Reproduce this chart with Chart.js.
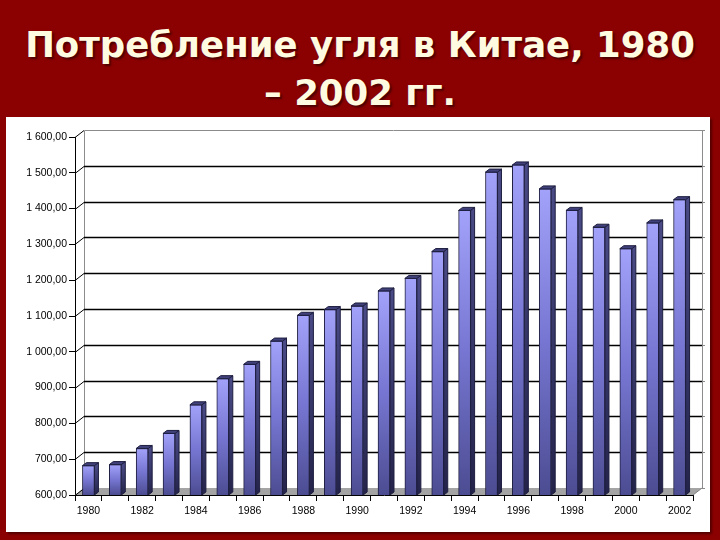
<!DOCTYPE html>
<html>
<head>
<meta charset="utf-8">
<script src="https://cdn.jsdelivr.net/npm/chart.js@4/dist/chart.umd.min.js"></script>
<style>
  html, body { margin: 0; padding: 0; }
  body { width: 720px; height: 540px; background: #8b0000; position: relative; overflow: hidden; }
  #title {
    position: absolute; left: 0; top: 21px; width: 720px;
    text-align: center; color: #fffbe0;
    font-family: "DejaVu Sans", sans-serif; font-weight: bold; font-size: 35.5px; line-height: 48px;
    text-shadow: 2px 2px 2px rgba(0,0,0,0.45);
  }
  #box {
    position: absolute; left: 6px; top: 117px; width: 704px; height: 415px;
    background: #fff; box-shadow: 2px 2px 2px rgba(0,0,0,0.4);
  }
</style>
</head>
<body>
<div id="title">Потребление угля в Китае, 1980<br>– 2002 гг.</div>
<div id="box"><canvas id="coalChart" width="704" height="415"></canvas></div>
<script>
// years on the category axis
const years = ['1980','1981','1982','1983','1984','1985','1986','1987','1988','1989','1990',
  '1991','1992','1993','1994','1995','1996','1997','1998','1999','2000','2001','2002'];

// coal consumption
const consumption = [682, 685, 730, 772, 852, 925, 965, 1030, 1102, 1118, 1128,
  1170, 1205, 1280, 1395, 1502, 1522, 1455, 1395, 1348, 1288, 1360, 1425];

// value axis labels, 600 to 1600
const yTickValues = [600, 700, 800, 900, 1000, 1100, 1200, 1300, 1400, 1500, 1600];
const yTickLabels = ['600,00','700,00','800,00','900,00','1 000,00','1 100,00','1 200,00',
  '1 300,00','1 400,00','1 500,00','1 600,00'];

// depth of the fake 3d wall and of the bars
const wallDx = 9, wallDy = 7;
const barDx = 4, barDy = 3;

//frontGradient : each bar gets its own light-to-dark fill
function frontGradient(context){
  const chart = context.chart;
  if (!chart.chartArea || context.parsed === undefined) return '#7a7ad8';
  const yScale = chart.scales.y;
  const top = yScale.getPixelForValue(context.parsed.y);
  const g = chart.ctx.createLinearGradient(0, top, 0, yScale.bottom);
  g.addColorStop(0, '#a2a2fa');
  g.addColorStop(0.5, '#7676d2');
  g.addColorStop(1, '#4c4c92');
  return g;
}

// back wall, grid lines and floor, then the sides and tops of the bars
const fake3d = {
  id: 'fake3d',
  beforeDatasetsDraw(chart){
    const c = chart.ctx;
    const a = chart.chartArea;
    const y = chart.scales.y;
    c.save();
    // floor
    c.fillStyle = '#a4a4a4';
    c.beginPath();
    c.moveTo(a.left, a.bottom);
    c.lineTo(a.left + wallDx, a.bottom - wallDy);
    c.lineTo(a.right + wallDx, a.bottom - wallDy);
    c.lineTo(a.right, a.bottom);
    c.closePath();
    c.fill();
    // wall frame
    c.strokeStyle = '#8c8c8c';
    c.lineWidth = 1;
    c.beginPath();
    c.moveTo(a.left + wallDx + 0.5, a.bottom - wallDy);
    c.lineTo(a.left + wallDx + 0.5, a.top - wallDy + 0.5);
    c.lineTo(a.right + wallDx + 0.5, a.top - wallDy + 0.5);
    c.lineTo(a.right + wallDx + 0.5, a.bottom - wallDy);
    c.stroke();
    // grid lines on the back wall plus the short slanted links to the axis
    yTickValues.forEach(function(v){
      const py = Math.round(y.getPixelForValue(v)) + 0.5;
      c.strokeStyle = '#000';
      c.lineWidth = 1;
      c.beginPath();
      c.moveTo(a.left, py);
      c.lineTo(a.left + wallDx, py - wallDy);
      c.stroke();
      if (v > 600 && v < 1600){
        c.lineWidth = 1.4;
        c.beginPath();
        c.moveTo(a.left + wallDx, py - wallDy);
        c.lineTo(a.right + wallDx, py - wallDy);
        c.stroke();
      }
      c.strokeStyle = '#8c8c8c';
      c.lineWidth = 1;
      c.beginPath();
      c.moveTo(a.right + wallDx, py - wallDy);
      c.lineTo(a.right + wallDx + 3, py - wallDy);
      c.stroke();
    });
    // right edge of the floor
    c.strokeStyle = '#808080';
    c.beginPath();
    c.moveTo(a.right, a.bottom);
    c.lineTo(a.right + wallDx, a.bottom - wallDy);
    c.stroke();
    c.restore();
  },
  afterDatasetsDraw(chart){
    const c = chart.ctx;
    const bars = chart.getDatasetMeta(0).data;
    const bottom = chart.chartArea.bottom;
    c.save();
    c.lineWidth = 1;
    c.strokeStyle = '#1e1e40';
    bars.forEach(function(bar){
      const p = bar.getProps(['x', 'y', 'width', 'base'], true);
      const base = Math.min(p.base, bottom);
      const l = p.x - p.width / 2, r = p.x + p.width / 2;
      // side
      const sg = c.createLinearGradient(0, p.y, 0, base);
      sg.addColorStop(0, '#4a4a86');
      sg.addColorStop(1, '#23234a');
      c.fillStyle = sg;
      c.beginPath();
      c.moveTo(r, p.y);
      c.lineTo(r + barDx, p.y - barDy);
      c.lineTo(r + barDx, base - barDy);
      c.lineTo(r, base);
      c.closePath();
      c.fill();
      c.stroke();
      // top
      c.fillStyle = '#40407a';
      c.beginPath();
      c.moveTo(l, p.y);
      c.lineTo(l + barDx, p.y - barDy);
      c.lineTo(r + barDx, p.y - barDy);
      c.lineTo(r, p.y);
      c.closePath();
      c.fill();
      c.stroke();
    });
    c.restore();
  }
};

const ctx = document.getElementById('coalChart');
let coalChart = new Chart(ctx, {
  type: 'bar',
  data: {
    labels: years,
    datasets: [{
      data: consumption,
      backgroundColor: frontGradient,
      borderColor: '#1e1e40',
      borderWidth: 1,
      borderSkipped: false,
      barThickness: 12
    }]
  },
  options: {
    responsive: false,
    animation: false,
    layout: { padding: { left: 0, top: 20, right: 17, bottom: 0 } },
    plugins: { legend: { display: false }, tooltip: { enabled: false } },
    scales: {
      x: {
        afterFit: function(scale){ scale.height = 37; },
        grid: { display: true, offset: true, drawOnChartArea: false, drawTicks: true, tickLength: 6, color: '#000' },
        border: { display: true, color: '#000' },
        ticks: {
          autoSkip: false, maxRotation: 0, color: '#000', padding: 4,
          font: { family: 'Arial, "Liberation Sans"', size: 10.5 },
          callback: function(val, i){ return i % 2 === 0 ? years[i] : ''; }
        }
      },
      y: {
        min: 600, max: 1600,
        afterFit: function(scale){ scale.width = 69; },
        grid: { display: true, drawOnChartArea: false, drawTicks: true, tickLength: 6, color: '#000' },
        border: { display: true, color: '#000' },
        ticks: {
          stepSize: 100, color: '#000', padding: 2,
          font: { family: 'Arial, "Liberation Sans"', size: 10.5 },
          callback: function(val){ return yTickLabels[yTickValues.indexOf(val)]; }
        }
      }
    }
  },
  plugins: [fake3d]
});
</script>
</body>
</html>
